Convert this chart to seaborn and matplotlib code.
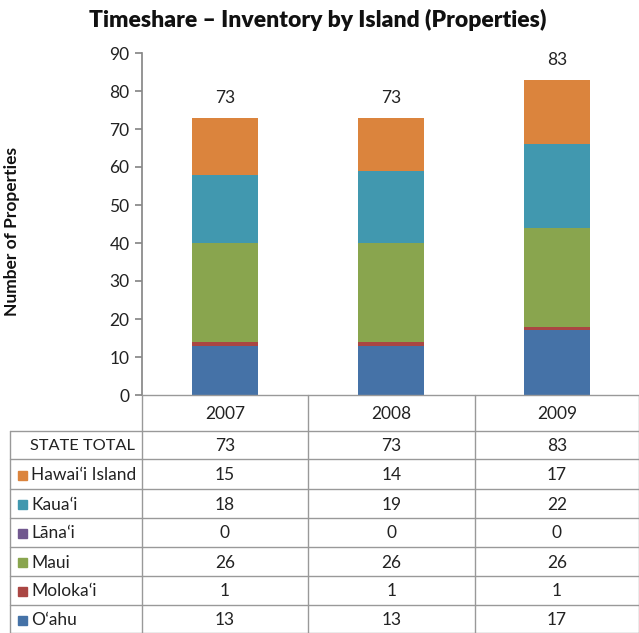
import matplotlib
matplotlib.use("Agg")
import matplotlib.pyplot as plt
import seaborn as sns
import pandas as pd
import numpy as np
from matplotlib.lines import Line2D
from matplotlib.patches import Rectangle

years = ["2007", "2008", "2009"]
islands = ["O\u02bbahu", "Moloka\u02bbi", "Maui", "L\u0101na\u02bbi", "Kaua\u02bbi", "Hawai\u02bbi Island"]
oahu = [13, 13, 17]
molokai = [1, 1, 1]
maui = [26, 26, 26]
lanai = [0, 0, 0]
kauai = [18, 19, 22]
hawaii = [15, 14, 17]
totals = [73, 73, 83]
colors = ["#4572A7", "#AA4643", "#89A54E", "#71588F", "#4198AF", "#DB843D"]

series = [oahu, molokai, maui, lanai, kauai, hawaii]

sns.set_theme(style="white")
plt.rcParams['font.family'] = ['Lato', 'DejaVu Sans']

W, H = 639, 633
fig = plt.figure(figsize=(W / 100, H / 100), dpi=100)
ax_l, ax_r, ax_t, ax_b = 142, 640, 53, 395
ax = fig.add_axes([ax_l / W, 1 - ax_b / H, (ax_r - ax_l) / W, (ax_b - ax_t) / H])

cum = np.cumsum(np.array(series), axis=0)
for i in range(len(series) - 1, -1, -1):
    df = pd.DataFrame({"year": years, "value": cum[i]})
    sns.barplot(data=df, x="year", y="value", color=colors[i], ax=ax,
                width=0.4, saturation=1, linewidth=0, errorbar=None)

for j, t in enumerate(totals):
    ax.text(j, t + 3, str(t), ha="center", va="bottom", fontsize=12.5, color="#222222")

ax.set_ylim(0, 90)
ax.set_xlim(-0.5, 2.5)
ax.set_yticks(range(0, 91, 10))
ax.tick_params(axis="y", labelsize=12.5, left=True, length=5, color="#888888", pad=4, labelcolor="#222222")
ax.set_xticks([])
ax.set_xlabel("")
ax.set_ylabel("Number of Properties", fontsize=12.5, fontweight="bold", color="#111111")
ax.yaxis.set_label_coords(-0.245, 0.477)
for s in ["top", "right", "bottom"]:
    ax.spines[s].set_visible(False)
ax.spines["left"].set_color("#888888")

fig.text(318 / W, 1 - 20 / H, "Timeshare \u2013 Inventory by Island (Properties)",
         ha="center", va="center", fontsize=16.5, fontweight="heavy", color="#111111")

# table
def fx(x):
    return x / W

def fy(y):
    return 1 - y / H

lc = "#999999"
col_lines = [142, 308, 475, 639]
header_top, header_bot = 395, 431
row_lines = [431, 459, 489, 518, 547, 576, 605, 633]

def hline(x0, x1, y):
    fig.add_artist(Line2D([fx(x0), fx(x1)], [fy(y), fy(y)], color=lc, lw=1))

def vline(x, y0, y1):
    fig.add_artist(Line2D([fx(x), fx(x)], [fy(y0), fy(y1)], color=lc, lw=1))

hline(142, 639, header_top)
for y in row_lines:
    hline(10, 639, y)
for x in col_lines:
    vline(x, header_top, 633)
vline(10, 431, 633)

centers = [(col_lines[k] + col_lines[k + 1]) / 2 for k in range(3)]
for k, yr in enumerate(years):
    fig.text(fx(centers[k]), fy((header_top + header_bot) / 2 + 1), yr, ha="center", va="center",
             fontsize=12.5, color="#222222")

row_labels = ["STATE TOTAL"] + islands[::-1]
row_vals = [totals] + series[::-1]
row_cols = [None] + colors[::-1]
for r in range(len(row_labels)):
    yc = (row_lines[r] + row_lines[r + 1]) / 2 + 1
    if row_cols[r] is None:
        fig.text(fx(30), fy(yc), row_labels[r], ha="left", va="center", fontsize=11.8, color="#222222")
    else:
        fig.add_artist(Rectangle((fx(18), fy(yc + 4.5)), 9 / W, 9 / H, color=row_cols[r],
                                 transform=fig.transFigure))
        fig.text(fx(31), fy(yc), row_labels[r], ha="left", va="center", fontsize=12.5, color="#222222")
    for k in range(3):
        fig.text(fx(centers[k]), fy(yc), str(row_vals[r][k]), ha="center", va="center",
                 fontsize=12.5, color="#222222")

fig.savefig("out.png", dpi=100)
